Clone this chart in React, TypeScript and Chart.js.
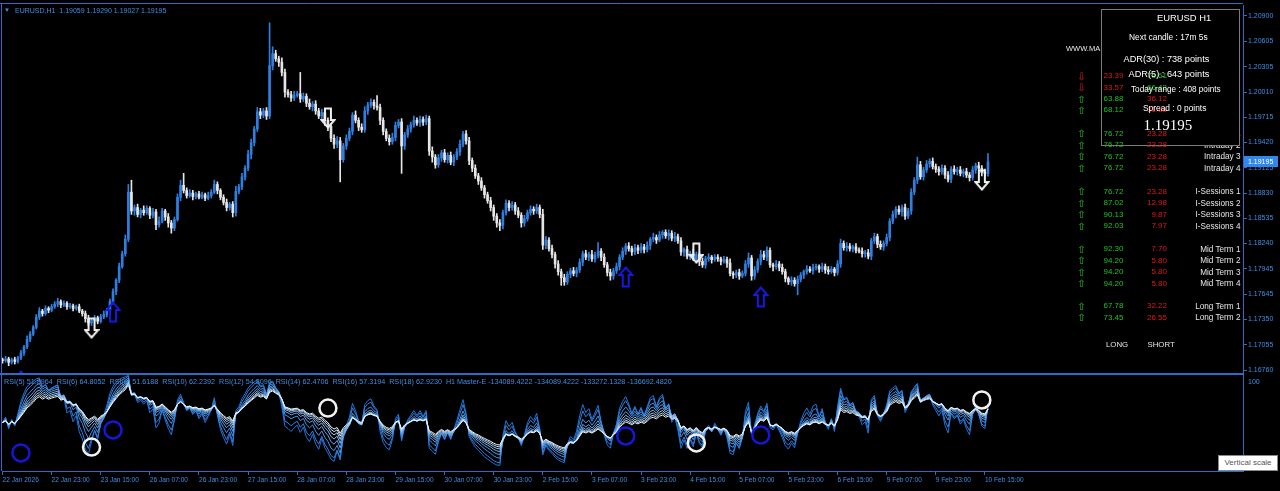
import React, { useEffect, useRef } from "react";
import { Chart, registerables } from "chart.js";

Chart.register(...registerables);

// ---------- DATA ----------
const SYMBOL_HEADER = "EURUSD,H1  1.19059 1.19290 1.19027 1.19195";
const RSI_HEADER =
  "RSI(5) 51.8964  RSI(6) 64.8052  RSI(8) 51.6188  RSI(10) 62.2392  RSI(12) 54.8096  RSI(14) 62.4706  RSI(16) 57.3194  RSI(18) 62.9230  H1 Master-E -134089.4222 -134089.4222 -133272.1328 -136692.4820";

// one x tick label every 16 hourly bars, starting with bar 0
const TIME_LABELS = [
  "22 Jan 2026", "22 Jan 23:00", "23 Jan 15:00", "26 Jan 07:00", "26 Jan 23:00", "27 Jan 15:00",
  "28 Jan 07:00", "28 Jan 23:00", "29 Jan 15:00", "30 Jan 07:00", "30 Jan 23:00", "2 Feb 15:00",
  "3 Feb 07:00", "3 Feb 23:00", "4 Feb 15:00", "5 Feb 07:00", "5 Feb 23:00", "6 Feb 15:00",
  "9 Feb 07:00", "9 Feb 23:00", "10 Feb 15:00",
];
const BARS_PER_LABEL = 16;

const PRICE_TICKS = [
  1.209, 1.20605, 1.20305, 1.2001, 1.19715, 1.1942, 1.19125, 1.1883, 1.18535, 1.1824, 1.17945,
  1.17645, 1.1735, 1.17055, 1.1676,
];

const FIRST_OPEN = 1.1688;

// hourly closes (22 Jan 07:00 -> 10 Feb 16:00)
const CLOSES = [
  // 22 Jan
  1.1687, 1.1689, 1.1685, 1.1688, 1.1686, 1.1690, 1.1696, 1.1703, 1.1712, 1.1718, 1.1726, 1.1738, 1.1745, 1.1742, 1.1748, 1.1746, 1.1750,
  // 23 Jan
  1.1753, 1.1756, 1.1752, 1.1754, 1.1750, 1.1751, 1.1748, 1.1750, 1.1745, 1.1742, 1.1736, 1.1731, 1.1734, 1.1737, 1.1733, 1.1738, 1.1741, 1.1746, 1.1756, 1.1768, 1.1781, 1.1797, 1.1812, 1.1829,
  // 26 Jan
  1.1884, 1.1862, 1.1866, 1.1858, 1.1863, 1.1860, 1.1865, 1.1857, 1.1861, 1.1846, 1.1850, 1.1862, 1.1855, 1.1848, 1.1842, 1.1852, 1.1878, 1.1892, 1.1886, 1.1880, 1.1883, 1.1879, 1.1882, 1.1878,
  // 27 Jan
  1.1881, 1.1877, 1.1880, 1.1884, 1.1893, 1.1886, 1.1878, 1.1872, 1.1866, 1.1870, 1.1860, 1.1885, 1.1890, 1.1902, 1.1912, 1.1928, 1.1942, 1.1958, 1.1978, 1.1974, 1.1979, 1.1973, 1.2032, 1.2046,
  // 28 Jan
  1.2040, 1.2036, 1.2024, 1.2001, 1.1998, 1.1994, 1.1997, 1.1999, 1.1993, 1.1996, 1.1988, 1.1984, 1.1987, 1.1979, 1.1973, 1.1977, 1.1968, 1.1961, 1.1947, 1.1940, 1.1944, 1.1922, 1.1938, 1.1947,
  // 29 Jan
  1.1955, 1.1974, 1.1968, 1.1960, 1.1957, 1.1979, 1.1986, 1.1989, 1.1985, 1.1983, 1.1968, 1.1955, 1.1947, 1.1943, 1.1948, 1.1962, 1.1966, 1.1938, 1.1951, 1.1958, 1.1963, 1.1968, 1.1965, 1.1969,
  // 30 Jan
  1.1966, 1.1970, 1.1932, 1.1925, 1.1916, 1.1924, 1.1930, 1.1922, 1.1927, 1.1919, 1.1925, 1.1931, 1.1940, 1.1952, 1.1944, 1.1921, 1.1912, 1.1903, 1.1897, 1.1889, 1.1881, 1.1874, 1.1866, 1.1856,
  // 2 Feb
  1.1848, 1.1845, 1.1860, 1.1871, 1.1866, 1.1869, 1.1862, 1.1857, 1.1848, 1.1853, 1.1860, 1.1864, 1.1862, 1.1866, 1.1858, 1.1822, 1.1828, 1.1818, 1.1811, 1.1800, 1.1791, 1.1784, 1.1779, 1.1788,
  // 3 Feb
  1.1792, 1.1789, 1.1793, 1.1802, 1.1812, 1.1808, 1.1811, 1.1806, 1.1810, 1.1815, 1.1808, 1.1799, 1.1790, 1.1786, 1.1792, 1.1797, 1.1808, 1.1815, 1.1821, 1.1818, 1.1814, 1.1819, 1.1816, 1.1820,
  // 4 Feb
  1.1817, 1.1822, 1.1829, 1.1831, 1.1828, 1.1834, 1.1837, 1.1833, 1.1836, 1.1830, 1.1832, 1.1827, 1.1814, 1.1817, 1.1809, 1.1812, 1.1806, 1.1811, 1.1803, 1.1799, 1.1806, 1.1808, 1.1805, 1.1808,
  // 5 Feb
  1.1806, 1.1803, 1.1805, 1.1801, 1.1789, 1.1787, 1.1790, 1.1786, 1.1789, 1.1800, 1.1807, 1.1786, 1.1793, 1.1803, 1.1811, 1.1808, 1.1816, 1.1799, 1.1797, 1.1800, 1.1796, 1.1791, 1.1783, 1.1779,
  // 6 Feb
  1.1781, 1.1777, 1.1782, 1.1787, 1.1791, 1.1794, 1.1792, 1.1796, 1.1797, 1.1794, 1.1797, 1.1793, 1.1791, 1.1794, 1.1790, 1.1800, 1.1824, 1.1819, 1.1821, 1.1818, 1.1820, 1.1816, 1.1815, 1.1812,
  // 9 Feb
  1.1813, 1.1809, 1.1827, 1.1832, 1.1823, 1.1820, 1.1824, 1.1831, 1.1850, 1.1858, 1.1864, 1.1861, 1.1866, 1.1856, 1.1862, 1.1884, 1.1898, 1.1916, 1.1902, 1.1910, 1.1917, 1.1920, 1.1914, 1.1911,
  // 10 Feb
  1.1908, 1.1912, 1.1904, 1.1899, 1.1911, 1.1908, 1.1910, 1.1906, 1.1908, 1.1904, 1.1901, 1.1910, 1.1915, 1.1912, 1.1907, 1.19059, 1.19195,
];

// wick lengths in pips above max(open,close) / below min(open,close)
const UPPER_WICK_PIPS = [
  2, 3, 2, 2, 3, 2, 3, 2, 4, 3, 2, 3, 4, 2, 3, 2, 3,
  3, 4, 2, 3, 2, 3, 2, 2, 3, 2, 3, 4, 2, 3, 2, 3, 4, 2, 3, 3, 2, 4, 3, 5,
  9, 14, 3, 4, 2, 5, 3, 2, 4, 3, 5, 3, 2, 4, 3, 3, 4, 6, 14, 3, 4, 3, 2, 3,
  3, 2, 4, 3, 5, 3, 2, 3, 4, 2, 3, 6, 3, 4, 3, 5, 4, 3, 5, 4, 3, 4, 50, 8,
  4, 3, 5, 4, 3, 4, 5, 3, 25, 4, 3, 5, 3, 4, 3, 4, 5, 3, 3, 4, 5, 4, 3, 4,
  4, 3, 5, 3, 4, 5, 3, 4, 3, 12, 4, 3, 3, 4, 5, 4, 3, 4, 3, 4, 3, 5, 3, 4,
  3, 4, 3, 5, 3, 4, 3, 4, 3, 4, 3, 4, 5, 3, 4, 4, 3, 4, 3, 4, 3, 3, 4, 3,
  3, 4, 3, 4, 3, 4, 3, 4, 3, 4, 3, 4, 3, 4, 3, 6, 4, 3, 4, 3, 4, 3, 4, 3,
  3, 4, 3, 4, 3, 4, 3, 5, 4, 10, 3, 4, 3, 4, 3, 4, 3, 4, 3, 4, 3, 4, 3, 4,
  3, 4, 2, 5, 3, 4, 2, 3, 4, 3, 5, 3, 4, 2, 4, 3, 5, 3, 2, 4, 3, 4, 2, 3,
  3, 2, 4, 3, 5, 2, 3, 4, 3, 4, 6, 3, 4, 3, 5, 4, 4, 3, 2, 4, 3, 4, 3, 2,
  4, 3, 4, 3, 2, 4, 3, 4, 3, 2, 4, 3, 4, 3, 2, 4, 5, 3, 4, 3, 2, 4, 3, 4,
  3, 4, 3, 4, 3, 4, 3, 4, 3, 4, 3, 4, 3, 4, 3, 4, 3, 9, 4, 3, 4, 3, 4, 3,
  3, 4, 3, 4, 3, 4, 3, 4, 3, 4, 3, 4, 3, 4, 3, 4, 9.5,
];
const LOWER_WICK_PIPS = [
  3, 2, 4, 2, 3, 2, 2, 3, 2, 3, 2, 2, 3, 3, 2, 3, 2,
  2, 3, 3, 2, 3, 2, 3, 2, 2, 3, 4, 3, 3, 2, 3, 2, 2, 3, 2, 3, 4, 3, 2, 3,
  3, 4, 5, 3, 4, 3, 2, 4, 3, 6, 3, 2, 4, 5, 6, 3, 2, 4, 3, 3, 2, 4, 3, 2,
  2, 3, 2, 3, 2, 4, 3, 3, 4, 3, 5, 4, 3, 3, 4, 3, 5, 4, 3, 4, 3, 4, 3, 5,
  3, 5, 4, 6, 3, 4, 3, 2, 4, 3, 4, 3, 5, 4, 3, 4, 6, 5, 4, 5, 4, 26, 3, 4,
  3, 4, 3, 4, 3, 3, 4, 3, 4, 3, 5, 4, 3, 4, 3, 4, 3, 32, 4, 3, 4, 3, 3, 4,
  4, 3, 5, 6, 4, 3, 4, 3, 4, 3, 4, 3, 4, 3, 4, 5, 4, 3, 4, 3, 4, 3, 4, 5,
  5, 6, 4, 3, 4, 3, 4, 3, 5, 4, 3, 3, 4, 3, 4, 5, 4, 3, 4, 5, 4, 9, 4, 3,
  4, 3, 4, 3, 4, 3, 4, 3, 4, 3, 4, 3, 4, 5, 4, 3, 4, 3, 4, 3, 4, 3, 4, 3,
  4, 3, 5, 3, 4, 2, 4, 3, 5, 3, 4, 3, 4, 5, 3, 4, 2, 4, 5, 3, 4, 3, 4, 2,
  3, 4, 2, 5, 3, 4, 3, 4, 2, 3, 4, 5, 4, 3, 4, 3, 4, 3, 5, 3, 4, 3, 4, 3,
  4, 3, 13, 3, 4, 3, 2, 4, 3, 4, 3, 4, 3, 2, 4, 3, 4, 3, 4, 3, 4, 3, 2, 4,
  4, 3, 4, 3, 4, 3, 4, 3, 4, 3, 4, 3, 5, 4, 3, 4, 3, 4, 3, 4, 3, 4, 3, 4,
  4, 3, 4, 3, 4, 3, 4, 3, 4, 3, 4, 3, 4, 3, 4, 3, 3.2,
];

const RSI_PERIODS = [5, 6, 8, 10, 12, 14, 16, 18];
const RSI_COLORS = ["#1f74dc", "#2f82e2", "#4592e8", "#5fa3ec", "#7db6f0", "#a0cbf5", "#c6e0fa", "#eef6ff"];
// average hourly move assumed for the history before the first visible bar
const RSI_SEED_MOVE = 0.0004;

// signal arrows on the price pane: bar index + price
const UP_ARROW_BARS = [6, 36, 203, 247];
const UP_ARROW_PRICES = [1.16631, 1.17438, 1.17848, 1.17614];
const DOWN_ARROW_BARS = [29, 106, 226, 319];
const DOWN_ARROW_PRICES = [1.17251, 1.19707, 1.18128, 1.18982];

// circles on the RSI pane: bar index + RSI level
const BLUE_CIRCLE_BARS = [6, 36, 203, 247];
const BLUE_CIRCLE_RSI = [18.6, 42.3, 36.1, 37.1];
const WHITE_CIRCLE_BARS = [29, 106, 226, 319];
const WHITE_CIRCLE_RSI = [24.7, 64.9, 28.9, 73.2];

// strength table (right side)
const TOP_LONG = ["23.39", "33.57", "63.88", "68.12"];
const TOP_SHORT = ["76.61", "66.43", "36.12", "31.88"];
const TABLE_GROUPS = [
  { labels: ["Intraday 1", "Intraday 2", "Intraday 3", "Intraday 4"], long: ["76.72", "76.72", "76.72", "76.72"], short: ["23.28", "23.28", "23.28", "23.28"] },
  { labels: ["I-Sessions 1", "I-Sessions 2", "I-Sessions 3", "I-Sessions 4"], long: ["76.72", "87.02", "90.13", "92.03"], short: ["23.28", "12.98", "9.87", "7.97"] },
  { labels: ["Mid Term 1", "Mid Term 2", "Mid Term 3", "Mid Term 4"], long: ["92.30", "94.20", "94.20", "94.20"], short: ["7.70", "5.80", "5.80", "5.80"] },
  { labels: ["Long Term 1", "Long Term 2"], long: ["67.78", "73.45"], short: ["32.22", "26.55"] },
];
const INFO_LINES = [
  "EURUSD H1",
  "Next candle : 17m 5s",
  "ADR(30) : 738 points",
  "ADR(5) : 643 points",
  "Today range : 408 points",
  "Spread : 0 points",
  "1.19195",
];

// ---------- STYLE ----------
const SANS = "'Liberation Sans', Arial, Helvetica, sans-serif";
const SERIF = "'Liberation Serif', 'Times New Roman', serif";
const AXIS_LINE = "#2a6cc6";
const AXIS_TEXT = "#3f8ee6";
const BULL = "#2f7fe0";
const BEAR = "#e6e6e6";
const GREEN = "#20c020";
const RED = "#e01818";
const LABEL = "#e6e6e6";

const W = 1280;
const H = 491;

function rsiSeries(cl: number[], p: number): number[] {
  let ag = RSI_SEED_MOVE / 2;
  let al = RSI_SEED_MOVE / 2;
  const out: number[] = [50];
  for (let i = 1; i < cl.length; i++) {
    const d = cl[i] - cl[i - 1];
    const g = d > 0 ? d : 0;
    const l = d < 0 ? -d : 0;
    ag = (ag * (p - 1) + g) / p;
    al = (al * (p - 1) + l) / p;
    out.push(al === 0 ? 100 : 100 - 100 / (1 + ag / al));
  }
  return out;
}

function makeArrow(up: boolean, color: string): HTMLCanvasElement {
  const c = document.createElement("canvas");
  c.width = 16;
  c.height = 22;
  const g = c.getContext("2d")!;
  g.strokeStyle = color;
  g.lineWidth = 2;
  g.lineJoin = "miter";
  g.beginPath();
  const pts = up
    ? [[8, 1.5], [14.5, 9], [11, 9], [11, 20.5], [5, 20.5], [5, 9], [1.5, 9]]
    : [[8, 20.5], [14.5, 13], [11, 13], [11, 1.5], [5, 1.5], [5, 13], [1.5, 13]];
  pts.forEach(([x, y], k) => (k === 0 ? g.moveTo(x, y) : g.lineTo(x, y)));
  g.closePath();
  g.stroke();
  return c;
}

type TxtProps = {
  x: number;
  y: number;
  size: number;
  color: string;
  text: string;
  align?: "left" | "right" | "center";
  family?: string;
};

function Txt({ x, y, size, color, text, align = "left", family = SANS }: TxtProps) {
  const lh = Math.round(size * 1.3);
  const style: React.CSSProperties = {
    position: "absolute",
    top: y - lh / 2,
    fontSize: size,
    lineHeight: `${lh}px`,
    color,
    fontFamily: family,
    whiteSpace: "pre",
  };
  if (align === "left") style.left = x;
  else if (align === "right") style.right = W - x;
  else {
    style.left = x;
    style.transform = "translateX(-50%)";
  }
  return <div style={style}>{text}</div>;
}

export default function App() {
  const ref = useRef<HTMLCanvasElement>(null);

  useEffect(() => {
    const canvas = ref.current;
    if (!canvas) return;

    const opens = CLOSES.map((c, i) => (i === 0 ? FIRST_OPEN : CLOSES[i - 1]));
    const highs = CLOSES.map((c, i) => Math.max(c, opens[i]) + (UPPER_WICK_PIPS[i] ?? 0) / 10000);
    const lows = CLOSES.map((c, i) => Math.min(c, opens[i]) - (LOWER_WICK_PIPS[i] ?? 0) / 10000);
    const colors = CLOSES.map((c, i) => (c >= opens[i] ? BULL : BEAR));

    const bodies = CLOSES.map((c, i) => ({ x: i, y: [opens[i], c] }));
    const wicks = CLOSES.map((c, i) => ({ x: i, y: [lows[i], highs[i]] }));

    const rsiSets = RSI_PERIODS.map((p, k) => ({
      type: "line" as const,
      label: `RSI(${p})`,
      data: rsiSeries(CLOSES, p).map((v, i) => ({ x: i, y: v })),
      borderColor: RSI_COLORS[k],
      borderWidth: 1,
      pointRadius: 0,
      tension: 0,
      fill: false,
      xAxisID: "x",
      yAxisID: "yR",
    })).reverse();

    const upImg = makeArrow(true, "#1818e0");
    const downImg = makeArrow(false, "#f0f0f0");
    const paneClip = { left: 10, top: 10, right: 10, bottom: -97 };

    // x: bar 0 at pixel 2.5, 3.07 px per bar, chart area 2..1243
    const pxPerBar = 3.07;
    const xMin = -0.5 / pxPerBar;
    const xMax = xMin + 1241 / pxPerBar;
    // price: 1.20900 at y=16, 8551 px per 1.0 ; chart area 5..471
    const pxPerUnit = 8551;
    const yMax = 1.209 + 11 / pxPerUnit;
    const yMin = yMax - 466 / pxPerUnit;
    // RSI: 100 at y=374, 0 at y=471
    const rPx = 0.97;
    const rMax = 466 / rPx;

    const bgPlugin = {
      id: "bg",
      beforeDraw(chart: any) {
        const c = chart.ctx;
        c.save();
        c.fillStyle = "#000";
        c.fillRect(0, 0, chart.width, chart.height);
        c.restore();
      },
      afterDraw(chart: any) {
        const c = chart.ctx;
        const ys = chart.scales.y;
        c.save();
        c.strokeStyle = AXIS_LINE;
        c.lineWidth = 1;
        c.beginPath();
        c.moveTo(1.5, 3);
        c.lineTo(1.5, 471);
        c.moveTo(0, 3.5);
        c.lineTo(1243, 3.5);
        c.stroke();
        c.lineWidth = 2;
        c.beginPath();
        c.moveTo(0, 374);
        c.lineTo(1243, 374);
        c.stroke();
        // current price tag
        const last = CLOSES[CLOSES.length - 1];
        const py = Math.round(ys.getPixelForValue(last));
        c.fillStyle = "#2f88ea";
        c.fillRect(1244, py - 6, 34, 11);
        c.fillStyle = "#ffffff";
        c.font = `7px ${SANS}`;
        c.textBaseline = "middle";
        c.fillText(last.toFixed(5), 1248, py);
        c.restore();
      },
    };

    const chart = new Chart(canvas, {
      type: "bar",
      data: {
        datasets: [
          {
            type: "scatter",
            data: UP_ARROW_BARS.map((b, k) => ({ x: b, y: UP_ARROW_PRICES[k] })),
            pointStyle: upImg,
            pointRadius: 10,
            xAxisID: "x",
            yAxisID: "y",
            clip: paneClip,
          },
          {
            type: "scatter",
            data: DOWN_ARROW_BARS.map((b, k) => ({ x: b, y: DOWN_ARROW_PRICES[k] })),
            pointStyle: downImg,
            pointRadius: 10,
            xAxisID: "x",
            yAxisID: "y",
            clip: paneClip,
          },
          {
            type: "scatter",
            data: BLUE_CIRCLE_BARS.map((b, k) => ({ x: b, y: BLUE_CIRCLE_RSI[k] })),
            pointStyle: "circle",
            pointRadius: 8.5,
            pointBorderWidth: 2.5,
            pointBackgroundColor: "rgba(0,0,0,0)",
            pointBorderColor: "#1616d8",
            xAxisID: "x",
            yAxisID: "yR",
          },
          {
            type: "scatter",
            data: WHITE_CIRCLE_BARS.map((b, k) => ({ x: b, y: WHITE_CIRCLE_RSI[k] })),
            pointStyle: "circle",
            pointRadius: 8.5,
            pointBorderWidth: 2.5,
            pointBackgroundColor: "rgba(0,0,0,0)",
            pointBorderColor: "#f2f2f2",
            xAxisID: "x",
            yAxisID: "yR",
          },
          {
            type: "bar",
            data: bodies as any,
            backgroundColor: colors,
            borderWidth: 0,
            barThickness: 2,
            minBarLength: 1,
            grouped: false,
            xAxisID: "x",
            yAxisID: "y",
          },
          {
            type: "bar",
            data: wicks as any,
            backgroundColor: colors,
            borderWidth: 0,
            barThickness: 1,
            grouped: false,
            xAxisID: "x",
            yAxisID: "y",
          },
          ...rsiSets,
        ] as any,
      },
      options: {
        animation: false,
        responsive: false,
        maintainAspectRatio: false,
        events: [],
        layout: { autoPadding: false, padding: { left: 2, top: 5, right: 0, bottom: 0 } },
        plugins: {
          legend: { display: false },
          tooltip: { enabled: false },
          title: { display: false },
        },
        scales: {
          x: {
            type: "linear",
            min: xMin,
            max: xMax,
            offset: false,
            bounds: "data",
            position: "bottom",
            grid: { display: true, offset: false, drawOnChartArea: false, drawTicks: true, tickLength: 4, color: AXIS_LINE },
            border: { display: true, color: AXIS_LINE, width: 1 },
            ticks: {
              autoSkip: false,
              maxRotation: 0,
              minRotation: 0,
              align: "start",
              color: AXIS_TEXT,
              padding: 1,
              font: { family: SANS, size: 6.6 },
              callback: (v: any) => TIME_LABELS[Math.round(Number(v) / BARS_PER_LABEL)] ?? "",
            },
            afterBuildTicks: (s: any) => {
              s.ticks = TIME_LABELS.map((_, k) => ({ value: k * BARS_PER_LABEL }));
            },
            afterFit: (s: any) => {
              s.height = 20;
              s.paddingLeft = 0;
              s.paddingRight = 0;
            },
          } as any,
          y: {
            type: "linear",
            position: "right",
            min: yMin,
            max: yMax,
            bounds: "data",
            grid: { display: true, drawOnChartArea: false, drawTicks: true, tickLength: 4, color: AXIS_LINE },
            border: { display: true, color: AXIS_LINE, width: 1 },
            ticks: {
              color: AXIS_TEXT,
              padding: 1,
              font: { family: SANS, size: 7 },
              callback: (v: any) => Number(v).toFixed(5),
            },
            afterBuildTicks: (s: any) => {
              s.ticks = PRICE_TICKS.map((v) => ({ value: v }));
            },
            afterFit: (s: any) => {
              s.width = 37;
              s.paddingTop = 0;
              s.paddingBottom = 0;
            },
          } as any,
          yR: {
            type: "linear",
            display: false,
            min: 0,
            max: rMax,
          },
        },
      },
      plugins: [bgPlugin],
    });

    return () => chart.destroy();
  }, []);

  const rowStep = 11.45;
  const groupTops = [133.8, 191.7, 249.2, 306.4];
  const topRows = [76.2, 87.6, 99, 110.4];

  return (
    <div style={{ position: "absolute", left: 0, top: 0, width: W, height: H, background: "#000", overflow: "hidden" }}>
      <canvas ref={ref} width={W} height={H} style={{ position: "absolute", left: 0, top: 0, width: W, height: H }} />

      {/* header texts */}
      <Txt x={4} y={10} size={6} color={AXIS_TEXT} text="▼" />
      <Txt x={15} y={10} size={7} color={AXIS_TEXT} text={SYMBOL_HEADER} />
      <Txt x={4} y={381} size={7.2} color={AXIS_TEXT} text={RSI_HEADER} />
      <Txt x={1248} y={381} size={7} color={AXIS_TEXT} text="100" />

      {/* right-side table: labels (under the info box) */}
      <Txt x={1066} y={49.2} size={7.5} color={LABEL} text="WWW.MA" />
      {TABLE_GROUPS.map((g, gi) =>
        g.labels.map((l, k) => (
          <Txt key={`l${gi}${k}`} x={1240.5} y={groupTops[gi] + k * rowStep} size={8.2} color={LABEL} align="right" text={l} />
        ))
      )}

      {/* info box */}
      <div
        style={{
          position: "absolute",
          left: 1101,
          top: 8.5,
          width: 139,
          height: 137.5,
          border: "1px solid #7a7a7a",
          background: "#000",
          boxSizing: "border-box",
        }}
      />

      {/* table arrows and values */}
      {topRows.map((y, k) => {
        const up = parseFloat(TOP_LONG[k]) >= 50;
        return (
          <React.Fragment key={`t${k}`}>
            <Txt x={1081.5} y={y} size={10} family="'DejaVu Sans', sans-serif" color={up ? GREEN : RED} align="center" text={up ? "⇧" : "⇩"} />
            <Txt x={1103.5} y={y} size={8} color={up ? GREEN : RED} text={TOP_LONG[k]} />
            <Txt x={1167} y={y} size={8} color={up ? RED : GREEN} align="right" text={TOP_SHORT[k]} />
          </React.Fragment>
        );
      })}
      {TABLE_GROUPS.map((g, gi) =>
        g.long.map((v, k) => {
          const y = groupTops[gi] + k * rowStep;
          const up = parseFloat(v) >= 50;
          return (
            <React.Fragment key={`v${gi}${k}`}>
              <Txt x={1081.5} y={y} size={10} family="'DejaVu Sans', sans-serif" color={up ? GREEN : RED} align="center" text={up ? "⇧" : "⇩"} />
              <Txt x={1103.5} y={y} size={8} color={up ? GREEN : RED} text={v} />
              <Txt x={1167} y={y} size={8} color={up ? RED : GREEN} align="right" text={g.short[k]} />
            </React.Fragment>
          );
        })
      )}
      <Txt x={1106} y={344.9} size={7.8} color={LABEL} text="LONG" />
      <Txt x={1147.5} y={344.9} size={7.8} color={LABEL} text="SHORT" />

      {/* info box texts */}
      <Txt x={1157} y={18.4} size={9.4} color="#fff" text={INFO_LINES[0]} />
      <Txt x={1129} y={37.8} size={8.4} color="#fff" text={INFO_LINES[1]} />
      <Txt x={1123.5} y={58.5} size={9.2} color="#fff" text={INFO_LINES[2]} />
      <Txt x={1128.6} y={74.2} size={9.2} color="#fff" text={INFO_LINES[3]} />
      <Txt x={1131} y={89.3} size={8.2} color="#fff" text={INFO_LINES[4]} />
      <Txt x={1143} y={108} size={8.4} color="#fff" text={INFO_LINES[5]} />
      <Txt x={1143.6} y={125.4} size={15} color="#fff" family={SERIF} text={INFO_LINES[6]} />

      {/* tooltip */}
      <div
        style={{
          position: "absolute",
          left: 1218,
          top: 455,
          width: 60,
          height: 16,
          background: "#fff",
          border: "1px solid #8a8a8a",
          boxSizing: "border-box",
          fontFamily: SANS,
          fontSize: 8,
          lineHeight: "14px",
          color: "#555",
          textAlign: "center",
          whiteSpace: "nowrap",
        }}
      >
        Vertical scale
      </div>
    </div>
  );
}
